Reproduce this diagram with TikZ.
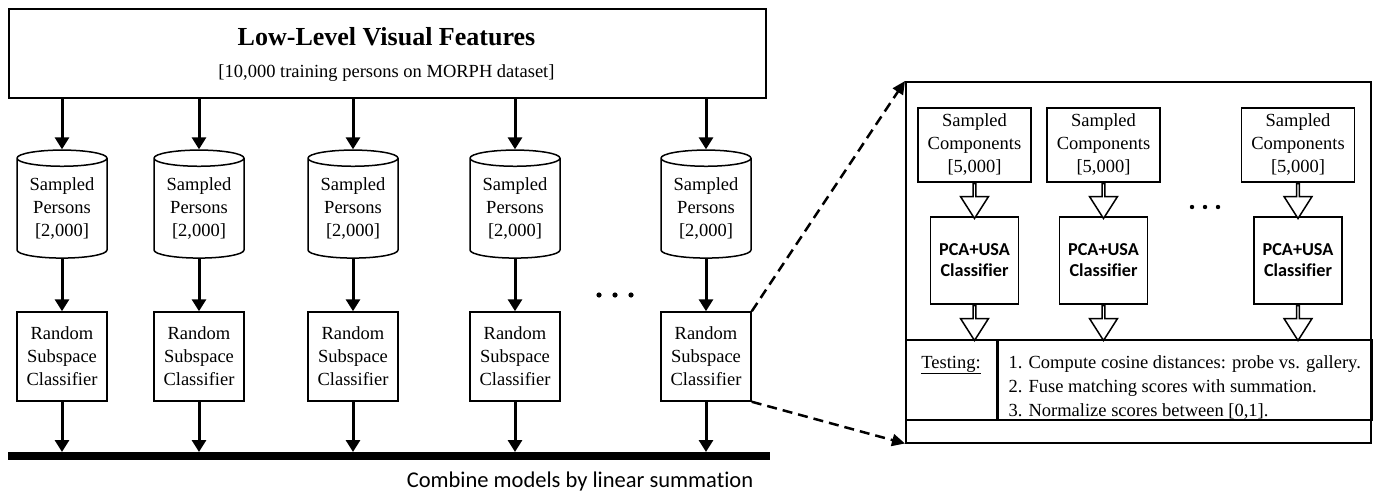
\documentclass[tikz,border=0pt]{standalone}
\usepackage{fontspec}
\setmainfont{Liberation Serif}
\newfontfamily\calibri[Ligatures=NoCommon]{Carlito}
\usetikzlibrary{shapes.geometric,shapes.arrows,arrows.meta}

\tikzset{
  txt/.style={font=\fontsize{18.5}{23}\selectfont},
  frame/.style={draw, line width=1.5pt, inner sep=0pt},
  rsbox/.style={frame, txt, align=center, minimum width=90pt, minimum height=89pt},
  persons/.style={frame, txt, align=center, cylinder, shape border rotate=90,
    shape aspect=0.25, minimum width=90pt, minimum height=108pt},
  compbox/.style={frame, txt, align=center, minimum width=113pt, minimum height=74pt},
  pcabox/.style={frame, align=center, minimum width=88pt, minimum height=87pt,
    font=\calibri\bfseries\fontsize{18.2}{21}\selectfont},
  flow/.style={line width=3pt, -{Triangle[width=14pt,length=12pt]}},
  zoomline/.style={line width=2.5pt, dash pattern=on 10pt off 6pt,
    -{Triangle[width=12pt,length=13pt]}},
  hollow/.style={single arrow, draw, line width=1.5pt, fill=white,
    shape border rotate=270, minimum width=28pt, minimum height=35pt,
    single arrow head extend=7pt, single arrow tip angle=65, inner sep=0pt},
}

\begin{document}
\begin{tikzpicture}[x=1pt, y=-1pt]
\useasboundingbox (0,0) rectangle (1378,493);

% training features
\node[frame, minimum width=757pt, minimum height=89pt, anchor=north west] (feat) at (8,8) {};
\node[anchor=base, font=\bfseries\fontsize{26}{30}\selectfont] (title) at (386.5,45) {Low-Level Visual Features};
\node[anchor=base, txt] (subtitle) at (386.5,77) {[10,000 training persons on MORPH dataset]};

% sampled persons and random subspace classifiers
\foreach \i/\x in {1/62, 2/199, 3/353, 4/515, 5/706} {
  \node[persons] (db\i) at (\x,208.5) {Sampled\\Persons\\{}[2,000]};
  \node[rsbox] (rs\i) at (\x,356.5) {Random\\Subspace\\Classifier};
}
\node[fill, inner sep=0pt, minimum width=762pt, minimum height=8pt, anchor=north west] (bus) at (8,452) {};
\foreach \i in {1,...,5} {
  \draw[flow] (feat.south -| db\i.north) -- (db\i.north);
  \draw[flow] (db\i.south) -- (rs\i.north);
  \draw[flow] (rs\i.south) -- (bus.north -| rs\i.south);
}
\foreach \dx in {-16,0,16}
  \fill (615+\dx,295) circle (2.6pt);
\node[anchor=base, font=\calibri\fontsize{22.5}{26}\selectfont] (combine) at (580,487) {Combine models by linear summation};

% zoomed view of one classifier
\node[frame, minimum width=465pt, minimum height=361pt, anchor=north west] (panel) at (905,81) {};
\foreach \i/\x in {1/974.5, 2/1103.5, 3/1298} {
  \node[compbox] (sc\i) at (\x,145) {Sampled\\Components\\{}[5,000]};
  \node[pcabox] (pca\i) at (\x,260.5) {PCA+USA\\Classifier};
  \node[hollow, anchor=tail] (in\i) at (sc\i.south) {};
  \node[hollow, anchor=tail] (out\i) at (pca\i.south) {};
}
\foreach \dx in {-13,0,13}
  \fill (1205+\dx,207) circle (2.2pt);

\node[frame, minimum width=91pt, minimum height=80pt, anchor=north west] (tcell) at (905,339) {};
\node[frame, minimum width=374pt, minimum height=80pt, anchor=north west] (steps) at (tcell.north east) {};
\node[anchor=base, txt] (tlabel) at (951,368) {\underline{Testing:}};
\node[anchor=base west, txt] (step1) at (1005,368) {1. Compute cosine distances: probe vs. gallery.};
\node[anchor=base west, txt] (step2) at (1005,392.5) {2. Fuse matching scores with summation.};
\node[anchor=base west, txt] (step3) at (1005,416) {3. Normalize scores between [0,1].};

\draw[zoomline] (rs5.north east) -- (panel.north west);
\draw[zoomline] (rs5.south east) -- (panel.south west);
\end{tikzpicture}
\end{document}
